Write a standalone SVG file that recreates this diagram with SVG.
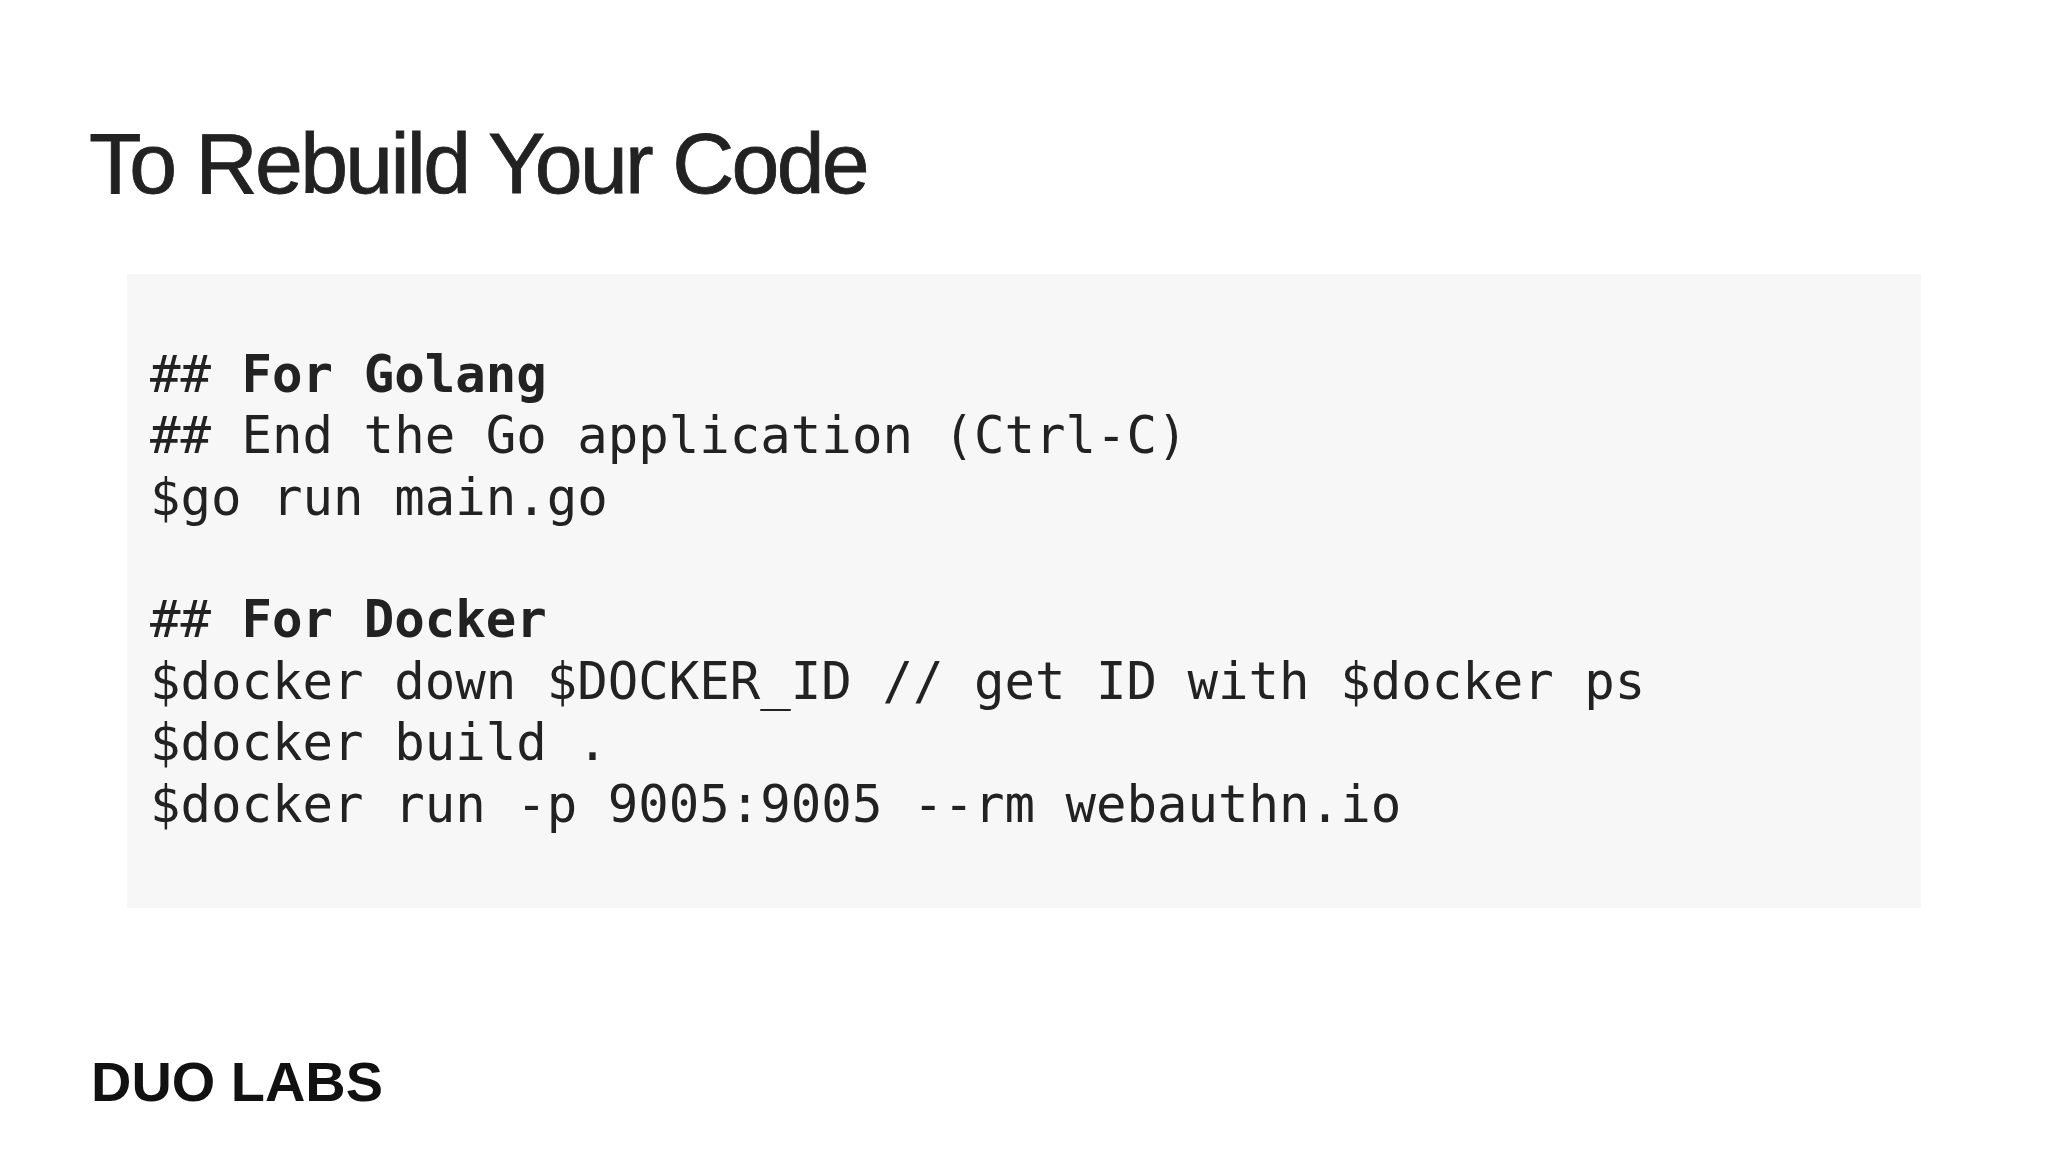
<svg xmlns="http://www.w3.org/2000/svg" width="2048" height="1152" viewBox="0 0 2048 1152">
<style>
.code{font-family:"DejaVu Sans Mono","Liberation Mono",monospace;font-size:50.7px;fill:#222}
.b{font-weight:bold}
</style>
<rect width="2048" height="1152" fill="#fff"/>
<text x="89" y="193" font-family="Liberation Sans, Arial, sans-serif" font-size="86" letter-spacing="-2.7" fill="#222" stroke="#222" stroke-width="0.8">To Rebuild Your Code</text>
<g id="codebox">
<rect x="127" y="274" width="1794" height="634" fill="#f7f7f8"/>
<text class="code" x="150" y="392">## <tspan class="b">For Golang</tspan></text>
<text class="code" x="150" y="453">## End the Go application (Ctrl-C)</text>
<text class="code" x="150" y="515">$go run main.go</text>
<text class="code" x="150" y="637">## <tspan class="b">For Docker</tspan></text>
<text class="code" x="150" y="699">$docker down $DOCKER_ID // get ID with $docker ps</text>
<text class="code" x="150" y="760">$docker build .</text>
<text class="code" x="150" y="822">$docker run -p 9005:9005 --rm webauthn.io</text>
</g>
<text id="logo" x="91" y="1101" font-family="Liberation Sans, Arial, sans-serif" font-weight="900" font-size="56" textLength="292" lengthAdjust="spacingAndGlyphs" fill="#111">DUO LABS</text>
</svg>
